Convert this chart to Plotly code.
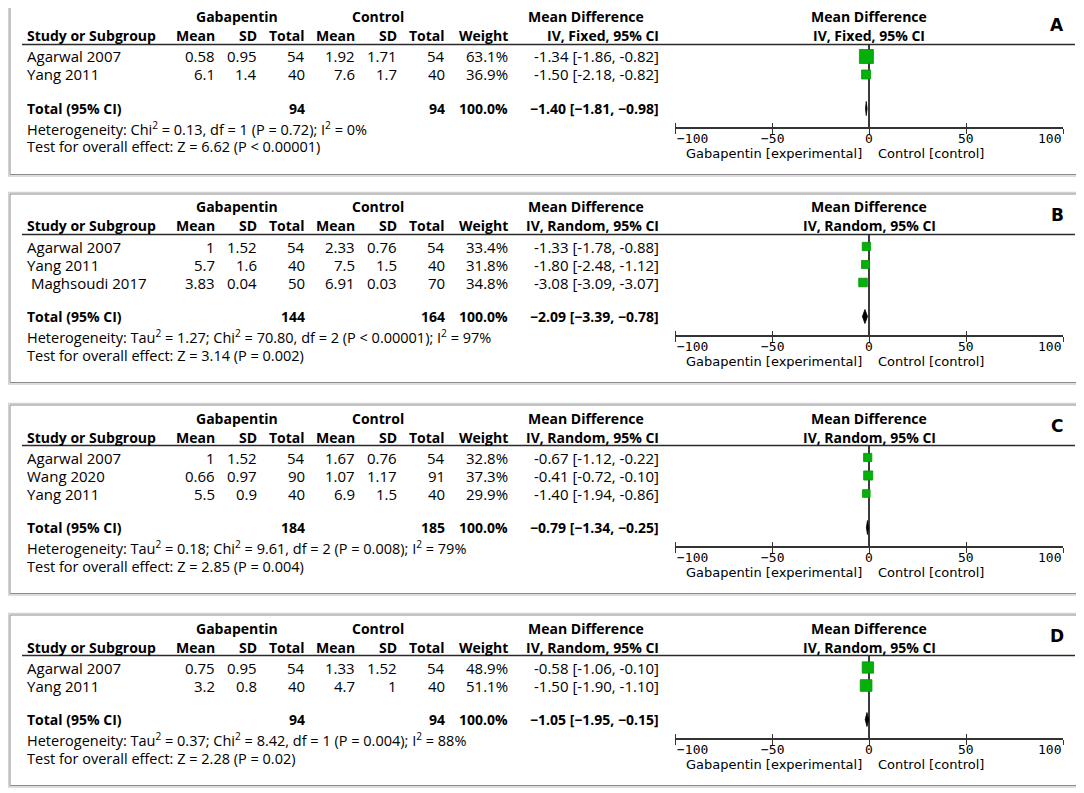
import plotly.graph_objects as go

W, H = 1084, 793
OFF = 8  # page body margin of the html file
FW, FH = W - OFF, H - OFF

# ---------------- data ----------------
panel_ids = ["A", "B", "C", "D"]
panel_model = ["Fixed", "Random", "Random", "Random"]

study_panel = ["A", "A", "B", "B", "B", "C", "C", "C", "D", "D"]
study_name = ["Agarwal 2007", "Yang 2011",
              "Agarwal 2007", "Yang 2011", "\u00a0Maghsoudi 2017",
              "Agarwal 2007", "Wang 2020", "Yang 2011",
              "Agarwal 2007", "Yang 2011"]
gaba_mean = [0.58, 6.1, 1, 5.7, 3.83, 1, 0.66, 5.5, 0.75, 3.2]
gaba_sd = [0.95, 1.4, 1.52, 1.6, 0.04, 1.52, 0.97, 0.9, 0.95, 0.8]
gaba_total = [54, 40, 54, 40, 50, 54, 90, 40, 54, 40]
ctrl_mean = [1.92, 7.6, 2.33, 7.5, 6.91, 1.67, 1.07, 6.9, 1.33, 4.7]
ctrl_sd = [1.71, 1.7, 0.76, 1.5, 0.03, 0.76, 1.17, 1.5, 1.52, 1]
ctrl_total = [54, 40, 54, 40, 70, 54, 91, 40, 54, 40]
weight = [63.1, 36.9, 33.4, 31.8, 34.8, 32.8, 37.3, 29.9, 48.9, 51.1]
md = [-1.34, -1.50, -1.33, -1.80, -3.08, -0.67, -0.41, -1.40, -0.58, -1.50]
md_lo = [-1.86, -2.18, -1.78, -2.48, -3.09, -1.12, -0.72, -1.94, -1.06, -1.90]
md_hi = [-0.82, -0.82, -0.88, -1.12, -3.07, -0.22, -0.10, -0.86, -0.10, -1.10]

total_gaba = [94, 144, 184, 94]
total_ctrl = [94, 164, 185, 94]
total_md = [-1.40, -2.09, -0.79, -1.05]
total_lo = [-1.81, -3.39, -1.34, -1.95]
total_hi = [-0.98, -0.78, -0.25, -0.15]

heterogeneity = [
    "Heterogeneity: Chi<sup>2</sup> = 0.13, df = 1 (P = 0.72); I<sup>2</sup> = 0%",
    "Heterogeneity: Tau<sup>2</sup> = 1.27; Chi<sup>2</sup> = 70.80, df = 2 (P &lt; 0.00001); I<sup>2</sup> = 97%",
    "Heterogeneity: Tau<sup>2</sup> = 0.18; Chi<sup>2</sup> = 9.61, df = 2 (P = 0.008); I<sup>2</sup> = 79%",
    "Heterogeneity: Tau<sup>2</sup> = 0.37; Chi<sup>2</sup> = 8.42, df = 1 (P = 0.004); I<sup>2</sup> = 88%",
]
overall = [
    "Test for overall effect: Z = 6.62 (P &lt; 0.00001)",
    "Test for overall effect: Z = 3.14 (P = 0.002)",
    "Test for overall effect: Z = 2.85 (P = 0.004)",
    "Test for overall effect: Z = 2.28 (P = 0.02)",
]
axis_ticks = [-100, -50, 0, 50, 100]
left_label = "Gabapentin [experimental]"
right_label = "Control [control]"

# ---------------- layout helpers ----------------
panel_top = [4, 194, 405, 615]
TFONT = "Open Sans"
FS = 15
FSB = 14
FS_NOTE = 14.5
GREEN = "#05b00a"
GREEN_EDGE = "#039606"


def px(x):
    return (x - OFF) / FW


def py(y):
    return 1 - (y - OFF) / FH


fig = go.Figure()
ann = []
shapes = []


def txt(x, y, s, anchor="left", bold=False, size=None, family=TFONT):
    if size is None:
        size = FSB if bold else FS
    ann.append(dict(
        x=px(x), y=py(y), xref="paper", yref="paper",
        text=f"<b>{s}</b>" if bold else s, showarrow=False,
        xanchor=anchor, yanchor="middle",
        font=dict(family=family, size=size, color="black")))


LEFT = 25
col_right = dict(gm=217, gs=259, gt=307, cm=357, cs=399, ct=447, w=510, ci=661)
col_group = dict(g=237, c=378, md=586)
PLOT_L, PLOT_R = 675, 1063
ZERO_X = (PLOT_L + PLOT_R) / 2

layout_axes = {}
for k, pid in enumerate(panel_ids):
    T = panel_top[k]
    idx = [i for i, p in enumerate(study_panel) if p == pid]
    n = len(idx)
    h1, h2, line_y = T + 13, T + 32, T + 40.5
    rows = [line_y + 12 + 18 * j for j in range(n)]
    tot_y = rows[-1] + 34
    het_y = tot_y + 20
    test_y = het_y + 18.5
    axis_y = tot_y + 18.5
    bottom = test_y + 27.5

    # panel border (double line)
    shapes.append(dict(type="rect", xref="paper", yref="paper",
                       x0=px(8.5), x1=px(1078.5), y0=py(T - 1.5), y1=py(bottom + 1.5),
                       line=dict(color="#d2d2d2", width=1.5), fillcolor="rgba(0,0,0,0)"))
    shapes.append(dict(type="rect", xref="paper", yref="paper",
                       x0=px(10), x1=px(1076.5), y0=py(T), y1=py(bottom),
                       line=dict(color="#8c8c8c", width=1), fillcolor="rgba(0,0,0,0)"))
    # header rule
    shapes.append(dict(type="line", xref="paper", yref="paper",
                       x0=px(22), x1=px(1075), y0=py(line_y), y1=py(line_y),
                       line=dict(color="#2a2a2a", width=1.5)))

    # headers
    txt(col_group["g"], h1, "Gabapentin", "center", True)
    txt(col_group["c"], h1, "Control", "center", True)
    txt(col_group["md"], h1, "Mean Difference", "center", True)
    txt(LEFT, h2, "Study or Subgroup", "left", True)
    for key, lab in [("gm", "Mean"), ("gs", "SD"), ("gt", "Total"), ("cm", "Mean"),
                     ("cs", "SD"), ("ct", "Total"), ("w", "Weight")]:
        txt(col_right[key], h2, lab, "right", True)
    model_lab = f"IV, {panel_model[k]}, 95% CI"
    txt(col_right["ci"], h2, model_lab, "right", True)
    txt(ZERO_X, h1, "Mean Difference", "center", True)
    txt(ZERO_X, h2, model_lab, "center", True)
    txt(1057, T + 21, pid, "center", True, size=17, family="DejaVu Sans")

    # study rows
    for j, i in enumerate(idx):
        y = rows[j]
        txt(LEFT, y, study_name[i], "left")
        txt(col_right["gm"], y, f"{gaba_mean[i]:g}", "right")
        txt(col_right["gs"], y, f"{gaba_sd[i]:g}", "right")
        txt(col_right["gt"], y, f"{gaba_total[i]}", "right")
        txt(col_right["cm"], y, f"{ctrl_mean[i]:g}", "right")
        txt(col_right["cs"], y, f"{ctrl_sd[i]:g}", "right")
        txt(col_right["ct"], y, f"{ctrl_total[i]}", "right")
        txt(col_right["w"], y, f"{weight[i]:.1f}%", "right")
        txt(col_right["ci"], y, f"{md[i]:.2f} [{md_lo[i]:.2f}, {md_hi[i]:.2f}]", "right")

    # total row
    txt(LEFT, tot_y, "Total (95% CI)", "left", True)
    txt(col_right["gt"], tot_y, f"{total_gaba[k]}", "right", True)
    txt(col_right["ct"], tot_y, f"{total_ctrl[k]}", "right", True)
    txt(col_right["w"], tot_y, "100.0%", "right", True)
    txt(col_right["ci"], tot_y,
        f"{total_md[k]:.2f} [{total_lo[k]:.2f}, {total_hi[k]:.2f}]".replace("-", "\u2212"),
        "right", True)
    txt(LEFT, het_y, heterogeneity[k], "left", size=FS_NOTE)
    txt(LEFT, test_y, overall[k], "left", size=FS_NOTE)

    # axes
    sx = "" if k == 0 else str(k + 1)
    xa, ya = "x" + sx, "y" + sx
    layout_axes["xaxis" + sx] = dict(
        domain=[px(PLOT_L), px(PLOT_R)], range=[-100, 100], anchor=ya,
        showgrid=False, zeroline=True, zerolinecolor="#3c3c3c", zerolinewidth=2,
        showline=True, linecolor="#333333", linewidth=1.5,
        tickvals=axis_ticks, ticks="outside", ticklen=5, tickwidth=1.3, tickcolor="#333333",
        showticklabels=False, fixedrange=True,
        minor=dict(tickvals=[t + 0.05 for t in axis_ticks], ticks="inside", ticklen=4,
                   tickwidth=1.3, tickcolor="#333333", showgrid=False),
    )
    layout_axes["yaxis" + sx] = dict(
        domain=[py(axis_y), py(line_y)], range=[axis_y, line_y], anchor=xa,
        visible=False, showgrid=False, zeroline=False, fixedrange=True)

    # tick labels
    for t_i, t in enumerate(axis_ticks):
        anchor = "left" if t_i == 0 else ("right" if t_i == len(axis_ticks) - 1 else "center")
        ann.append(dict(x=t, y=py(axis_y + 11.5), xref=xa, yref="paper",
                        text=f"{t:g}".replace("-", "\u2212"), showarrow=False,
                        xanchor=anchor, yanchor="middle",
                        font=dict(family="DejaVu Sans Mono", size=13, color="black")))
    txt(864, axis_y + 26.5, left_label, "right", size=13, family="DejaVu Sans")
    txt(876, axis_y + 26.5, right_label, "left", size=13, family="DejaVu Sans")

    # study squares with CI
    fig.add_trace(go.Scatter(
        x=[md[i] for i in idx], y=rows, xaxis=xa, yaxis=ya, mode="markers",
        marker=dict(symbol="square", color=GREEN, opacity=1,
                    size=[2 + 0.19 * weight[i] for i in idx],
                    line=dict(color=GREEN_EDGE, width=0.8)),
        error_x=dict(type="data", symmetric=False,
                     array=[md_hi[i] - md[i] for i in idx],
                     arrayminus=[md[i] - md_lo[i] for i in idx],
                     color="black", thickness=1, width=0),
        hoverinfo="skip", cliponaxis=False))

    # pooled diamond
    hh = 7
    fig.add_trace(go.Scatter(
        x=[total_lo[k], total_md[k], total_hi[k], total_md[k], total_lo[k]],
        y=[tot_y, tot_y - hh, tot_y, tot_y + hh, tot_y],
        xaxis=xa, yaxis=ya, mode="lines", fill="toself", fillcolor="black",
        line=dict(color="black", width=0.8), hoverinfo="skip"))

fig.update_layout(
    width=FW, height=FH, margin=dict(l=0, r=0, t=0, b=0),
    paper_bgcolor="white", plot_bgcolor="rgba(0,0,0,0)", showlegend=False,
    annotations=ann, shapes=shapes, **layout_axes)

fig.write_html("out.html")
